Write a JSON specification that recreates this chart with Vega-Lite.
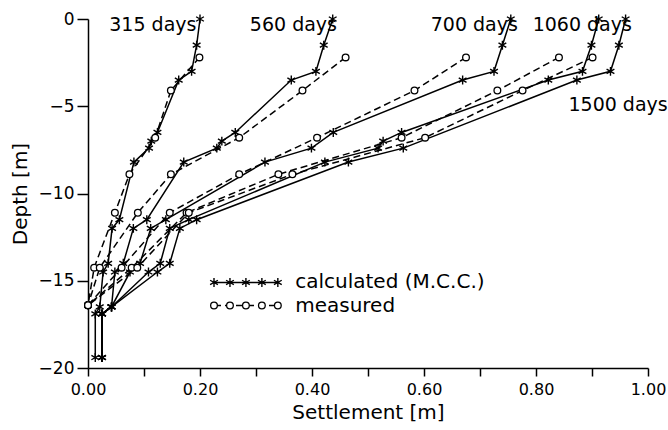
{
  "$schema": "https://vega.github.io/schema/vega-lite/v6.json",
  "width": 560,
  "height": 349,
  "autosize": {"type": "none"},
  "padding": {"left": 88, "top": 19, "right": 20, "bottom": 62},
  "background": "white",
  "config": {
    "view": {"stroke": null},
    "font": "DejaVu Sans",
    "axis": {
      "grid": false,
      "domainColor": "black",
      "domainWidth": 1.5,
      "tickColor": "black",
      "tickWidth": 1.5,
      "labelColor": "black",
      "labelFont": "DejaVu Sans",
      "labelFontSize": 16,
      "titleFont": "DejaVu Sans",
      "titleFontSize": 20,
      "titleFontWeight": "normal",
      "titleColor": "black",
      "labelFlush": false,
      "labelOverlap": false
    }
  },
  "datasets": {
    "calc": [
      {"g": "315", "i": 0, "s": 0.200, "d": 0},
      {"g": "315", "i": 1, "s": 0.194, "d": -1.5},
      {"g": "315", "i": 2, "s": 0.185, "d": -3.0},
      {"g": "315", "i": 3, "s": 0.162, "d": -3.5},
      {"g": "315", "i": 4, "s": 0.124, "d": -6.5},
      {"g": "315", "i": 5, "s": 0.113, "d": -7.0},
      {"g": "315", "i": 6, "s": 0.109, "d": -7.4},
      {"g": "315", "i": 7, "s": 0.082, "d": -8.2},
      {"g": "315", "i": 8, "s": 0.056, "d": -11.5},
      {"g": "315", "i": 9, "s": 0.043, "d": -12.0},
      {"g": "315", "i": 10, "s": 0.036, "d": -14.0},
      {"g": "315", "i": 11, "s": 0.027, "d": -14.5},
      {"g": "315", "i": 12, "s": 0.021, "d": -16.5},
      {"g": "315", "i": 13, "s": 0.013, "d": -16.9},
      {"g": "315", "i": 14, "s": 0.013, "d": -19.4},
      {"g": "560", "i": 0, "s": 0.437, "d": 0},
      {"g": "560", "i": 1, "s": 0.421, "d": -1.5},
      {"g": "560", "i": 2, "s": 0.407, "d": -3.0},
      {"g": "560", "i": 3, "s": 0.363, "d": -3.5},
      {"g": "560", "i": 4, "s": 0.263, "d": -6.5},
      {"g": "560", "i": 5, "s": 0.239, "d": -7.0},
      {"g": "560", "i": 6, "s": 0.230, "d": -7.4},
      {"g": "560", "i": 7, "s": 0.171, "d": -8.2},
      {"g": "560", "i": 8, "s": 0.105, "d": -11.5},
      {"g": "560", "i": 9, "s": 0.081, "d": -12.0},
      {"g": "560", "i": 10, "s": 0.063, "d": -14.0},
      {"g": "560", "i": 11, "s": 0.048, "d": -14.5},
      {"g": "560", "i": 12, "s": 0.042, "d": -16.5},
      {"g": "560", "i": 13, "s": 0.025, "d": -16.9},
      {"g": "560", "i": 14, "s": 0.025, "d": -19.4},
      {"g": "700", "i": 0, "s": 0.755, "d": 0},
      {"g": "700", "i": 1, "s": 0.740, "d": -1.5},
      {"g": "700", "i": 2, "s": 0.725, "d": -3.0},
      {"g": "700", "i": 3, "s": 0.669, "d": -3.5},
      {"g": "700", "i": 4, "s": 0.438, "d": -6.5},
      {"g": "700", "i": 5, "s": 0.399, "d": -7.4},
      {"g": "700", "i": 6, "s": 0.316, "d": -8.2},
      {"g": "700", "i": 7, "s": 0.139, "d": -11.5},
      {"g": "700", "i": 8, "s": 0.112, "d": -12.0},
      {"g": "700", "i": 9, "s": 0.093, "d": -14.0},
      {"g": "700", "i": 10, "s": 0.075, "d": -14.5},
      {"g": "700", "i": 11, "s": 0.042, "d": -16.5},
      {"g": "700", "i": 12, "s": 0.025, "d": -16.9},
      {"g": "700", "i": 13, "s": 0.025, "d": -19.4},
      {"g": "1060", "i": 0, "s": 0.912, "d": 0},
      {"g": "1060", "i": 1, "s": 0.899, "d": -1.5},
      {"g": "1060", "i": 2, "s": 0.883, "d": -3.0},
      {"g": "1060", "i": 3, "s": 0.822, "d": -3.5},
      {"g": "1060", "i": 4, "s": 0.560, "d": -6.5},
      {"g": "1060", "i": 5, "s": 0.527, "d": -7.0},
      {"g": "1060", "i": 6, "s": 0.518, "d": -7.4},
      {"g": "1060", "i": 7, "s": 0.423, "d": -8.2},
      {"g": "1060", "i": 8, "s": 0.180, "d": -11.5},
      {"g": "1060", "i": 9, "s": 0.146, "d": -12.0},
      {"g": "1060", "i": 10, "s": 0.129, "d": -14.0},
      {"g": "1060", "i": 11, "s": 0.108, "d": -14.5},
      {"g": "1060", "i": 12, "s": 0.042, "d": -16.5},
      {"g": "1060", "i": 13, "s": 0.025, "d": -16.9},
      {"g": "1060", "i": 14, "s": 0.025, "d": -19.4},
      {"g": "1500", "i": 0, "s": 0.960, "d": 0},
      {"g": "1500", "i": 1, "s": 0.948, "d": -1.5},
      {"g": "1500", "i": 2, "s": 0.933, "d": -3.0},
      {"g": "1500", "i": 3, "s": 0.873, "d": -3.5},
      {"g": "1500", "i": 4, "s": 0.563, "d": -7.4},
      {"g": "1500", "i": 5, "s": 0.465, "d": -8.2},
      {"g": "1500", "i": 6, "s": 0.194, "d": -11.5},
      {"g": "1500", "i": 7, "s": 0.164, "d": -12.0},
      {"g": "1500", "i": 8, "s": 0.146, "d": -14.0},
      {"g": "1500", "i": 9, "s": 0.124, "d": -14.5},
      {"g": "1500", "i": 10, "s": 0.042, "d": -16.5},
      {"g": "1500", "i": 11, "s": 0.025, "d": -16.9},
      {"g": "1500", "i": 12, "s": 0.025, "d": -19.4},
      {"g": "legend", "i": 0, "s": 0.225, "d": -15.1},
      {"g": "legend", "i": 1, "s": 0.2535, "d": -15.1},
      {"g": "legend", "i": 2, "s": 0.282, "d": -15.1},
      {"g": "legend", "i": 3, "s": 0.3105, "d": -15.1},
      {"g": "legend", "i": 4, "s": 0.339, "d": -15.1}
    ],
    "meas": [
      {"g": "315", "i": 0, "s": 0.199, "d": -2.2},
      {"g": "315", "i": 1, "s": 0.148, "d": -4.1},
      {"g": "315", "i": 2, "s": 0.120, "d": -6.8},
      {"g": "315", "i": 3, "s": 0.074, "d": -8.9},
      {"g": "315", "i": 4, "s": 0.048, "d": -11.1},
      {"g": "315", "i": 5, "s": 0.011, "d": -14.25},
      {"g": "315", "i": 6, "s": 0.0, "d": -16.4},
      {"g": "560", "i": 0, "s": 0.460, "d": -2.2},
      {"g": "560", "i": 1, "s": 0.383, "d": -4.1},
      {"g": "560", "i": 2, "s": 0.270, "d": -6.8},
      {"g": "560", "i": 3, "s": 0.148, "d": -8.9},
      {"g": "560", "i": 4, "s": 0.089, "d": -11.1},
      {"g": "560", "i": 5, "s": 0.021, "d": -14.25},
      {"g": "560", "i": 6, "s": 0.0, "d": -16.4},
      {"g": "700", "i": 0, "s": 0.675, "d": -2.2},
      {"g": "700", "i": 1, "s": 0.583, "d": -4.1},
      {"g": "700", "i": 2, "s": 0.409, "d": -6.8},
      {"g": "700", "i": 3, "s": 0.270, "d": -8.9},
      {"g": "700", "i": 4, "s": 0.146, "d": -11.1},
      {"g": "700", "i": 5, "s": 0.060, "d": -14.25},
      {"g": "700", "i": 6, "s": 0.0, "d": -16.4},
      {"g": "1060", "i": 0, "s": 0.841, "d": -2.2},
      {"g": "1060", "i": 1, "s": 0.731, "d": -4.1},
      {"g": "1060", "i": 2, "s": 0.560, "d": -6.8},
      {"g": "1060", "i": 3, "s": 0.340, "d": -8.9},
      {"g": "1060", "i": 4, "s": 0.176, "d": -11.1},
      {"g": "1060", "i": 5, "s": 0.078, "d": -14.25},
      {"g": "1060", "i": 6, "s": 0.0, "d": -16.4},
      {"g": "1500", "i": 0, "s": 0.901, "d": -2.2},
      {"g": "1500", "i": 1, "s": 0.776, "d": -4.1},
      {"g": "1500", "i": 2, "s": 0.602, "d": -6.8},
      {"g": "1500", "i": 3, "s": 0.365, "d": -8.9},
      {"g": "1500", "i": 4, "s": 0.180, "d": -11.1},
      {"g": "1500", "i": 5, "s": 0.088, "d": -14.25},
      {"g": "1500", "i": 6, "s": 0.0, "d": -16.4},
      {"g": "legend", "i": 0, "s": 0.225, "d": -16.42},
      {"g": "legend", "i": 1, "s": 0.2535, "d": -16.42},
      {"g": "legend", "i": 2, "s": 0.282, "d": -16.42},
      {"g": "legend", "i": 3, "s": 0.3105, "d": -16.42},
      {"g": "legend", "i": 4, "s": 0.339, "d": -16.42}
    ],
    "labels": [
      {"t": "315 days", "s": 0.038, "d": -0.32},
      {"t": "560 days", "s": 0.289, "d": -0.32},
      {"t": "700 days", "s": 0.612, "d": -0.32},
      {"t": "1060 days", "s": 0.794, "d": -0.32},
      {"t": "1500 days", "s": 0.858, "d": -4.9}
    ],
    "legendText": [
      {"t": "calculated (M.C.C.)", "s": 0.37, "d": -15.1},
      {"t": "measured", "s": 0.37, "d": -16.42}
    ]
  },
  "encoding": {
    "x": {
      "field": "s",
      "type": "quantitative",
      "scale": {"domain": [0, 1], "nice": false, "zero": false},
      "axis": {
        "title": "Settlement [m]",
        "values": [0, 0.1, 0.2, 0.3, 0.4, 0.5, 0.6, 0.7, 0.8, 0.9, 1.0],
        "format": ".2f",
        "labelExpr": "(round(datum.value * 10) % 2 == 0) ? datum.label : ''",
        "tickSize": 8,
        "labelPadding": 5,
        "titlePadding": 5
      }
    },
    "y": {
      "field": "d",
      "type": "quantitative",
      "scale": {"domain": [-20, 0], "nice": false, "zero": false},
      "axis": {
        "title": "Depth [m]",
        "values": [-20, -15, -10, -5, 0],
        "format": "d",
        "tickSize": 11,
        "labelPadding": 3,
        "labelFontSize": 17,
        "titlePadding": 8
      }
    }
  },
  "layer": [
    {
      "data": {"name": "calc"},
      "mark": {"type": "line", "color": "black", "strokeWidth": 1.5},
      "encoding": {"detail": {"field": "g"}, "order": {"field": "i", "type": "quantitative"}}
    },
    {
      "data": {"name": "meas"},
      "mark": {"type": "line", "color": "black", "strokeWidth": 1.5, "strokeDash": [7, 4]},
      "encoding": {"detail": {"field": "g"}, "order": {"field": "i", "type": "quantitative"}}
    },
    {
      "data": {"name": "calc"},
      "mark": {"type": "point", "shape": "M0,-1L0,1M-0.87,-0.5L0.87,0.5M-0.87,0.5L0.87,-0.5", "size": 80, "filled": false, "stroke": "black", "strokeWidth": 1.4, "opacity": 1}
    },
    {
      "data": {"name": "meas"},
      "mark": {"type": "point", "shape": "circle", "size": 45, "filled": true, "fill": "white", "stroke": "black", "strokeWidth": 1.3, "opacity": 1}
    },
    {
      "data": {"name": "labels"},
      "mark": {"type": "text", "align": "left", "baseline": "middle", "fontSize": 19, "font": "DejaVu Sans", "color": "black"},
      "encoding": {"text": {"field": "t"}}
    },
    {
      "data": {"name": "legendText"},
      "mark": {"type": "text", "align": "left", "baseline": "middle", "fontSize": 20, "font": "DejaVu Sans", "color": "black"},
      "encoding": {"text": {"field": "t"}}
    }
  ]
}
